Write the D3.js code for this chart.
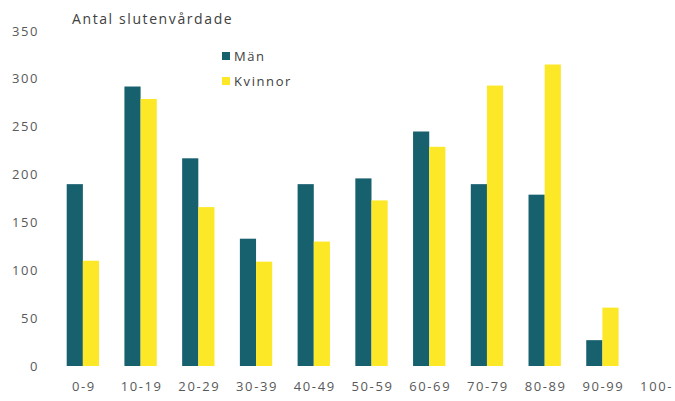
<!DOCTYPE html>
<html>
<head>
<meta charset="utf-8">
<script src="https://cdn.jsdelivr.net/npm/d3@7"></script>
<style>
  body { margin: 0; background: #fff; }
  svg { display: block; font-family: "Open Sans", sans-serif; }
  text { letter-spacing: 1.6px; }
</style>
</head>
<body>
<svg id="chart" width="675" height="401"></svg>
<script>
// age groups and counts per sex
const ageGroups = ["0-9", "10-19", "20-29", "30-39", "40-49", "50-59", "60-69", "70-79", "80-89", "90-99", "100-"];
const man = [190, 292, 217, 133, 190, 196, 245, 190, 179, 27, 0];
const kvinnor = [110, 279, 166, 109, 130, 173, 229, 293, 315, 61, 0];
const seriesNames = ["Män", "Kvinnor"];
const yTicks = [0, 50, 100, 150, 200, 250, 300, 350];

const colors = { "Män": "#17606e", "Kvinnor": "#fce826" };

const W = 675;
const svg = d3.select("#chart");

// plot area runs past the right edge, like the cropped original
const x = d3.scaleBand().domain(ageGroups).range([54, 689]).paddingInner(0.44).paddingOuter(0.22);
const x1 = d3.scaleBand().domain(seriesNames).range([0, x.bandwidth()]);
const y = d3.scaleLinear().domain([0, 350]).range([366, 31]);

// y axis labels
svg.append("g").selectAll("text")
    .data(yTicks)
    .enter()
    .append("text")
    .attr("x", 39)
    .attr("y", d => y(d))
    .attr("dy", "0.35em")
    .attr("text-anchor", "end")
    .attr("fill", "#595959")
    .attr("font-size", "13px")
    .text(d => d);

// x axis labels (the last one is kept inside the picture)
svg.append("g").selectAll("text")
    .data(ageGroups)
    .enter()
    .append("text")
    .attr("y", 386)
    .attr("dy", "0.35em")
    .attr("text-anchor", "middle")
    .attr("fill", "#595959")
    .attr("font-size", "13px")
    .text(d => d)
    .attr("x", function(d) {
        const half = this.getComputedTextLength() / 2;
        return Math.min(x(d) + x.bandwidth() / 2 + 1, W - 2 - half);
    });

// bars
const rows = ageGroups.map((g, i) => ({ group: g, values: [
    { name: "Män", value: man[i] },
    { name: "Kvinnor", value: kvinnor[i] }
]}));

svg.append("g").selectAll("g")
    .data(rows)
    .enter()
    .append("g")
    .attr("transform", d => "translate(" + x(d.group) + ",0)")
    .selectAll("rect")
    .data(d => d.values.filter(v => v.value > 0))
    .enter()
    .append("rect")
    .attr("x", d => x1(d.name))
    .attr("y", d => y(d.value))
    .attr("width", x1.bandwidth())
    .attr("height", d => y(0) - y(d.value))
    .attr("fill", d => colors[d.name]);

// title
svg.append("text")
    .attr("x", 72)
    .attr("y", 19)
    .attr("dy", "0.35em")
    .attr("fill", "#404040")
    .attr("font-size", "14px")
    .text("Antal slutenvårdade");

// legend
const legend = svg.append("g").selectAll("g")
    .data(seriesNames)
    .enter()
    .append("g")
    .attr("transform", (d, i) => "translate(222," + (56 + i * 25) + ")");

legend.append("rect")
    .attr("x", 0)
    .attr("y", -4)
    .attr("width", 8)
    .attr("height", 8)
    .attr("fill", d => colors[d]);

legend.append("text")
    .attr("x", 12)
    .attr("dy", "0.35em")
    .attr("fill", "#404040")
    .attr("font-size", "13px")
    .text(d => d);
</script>
</body>
</html>
